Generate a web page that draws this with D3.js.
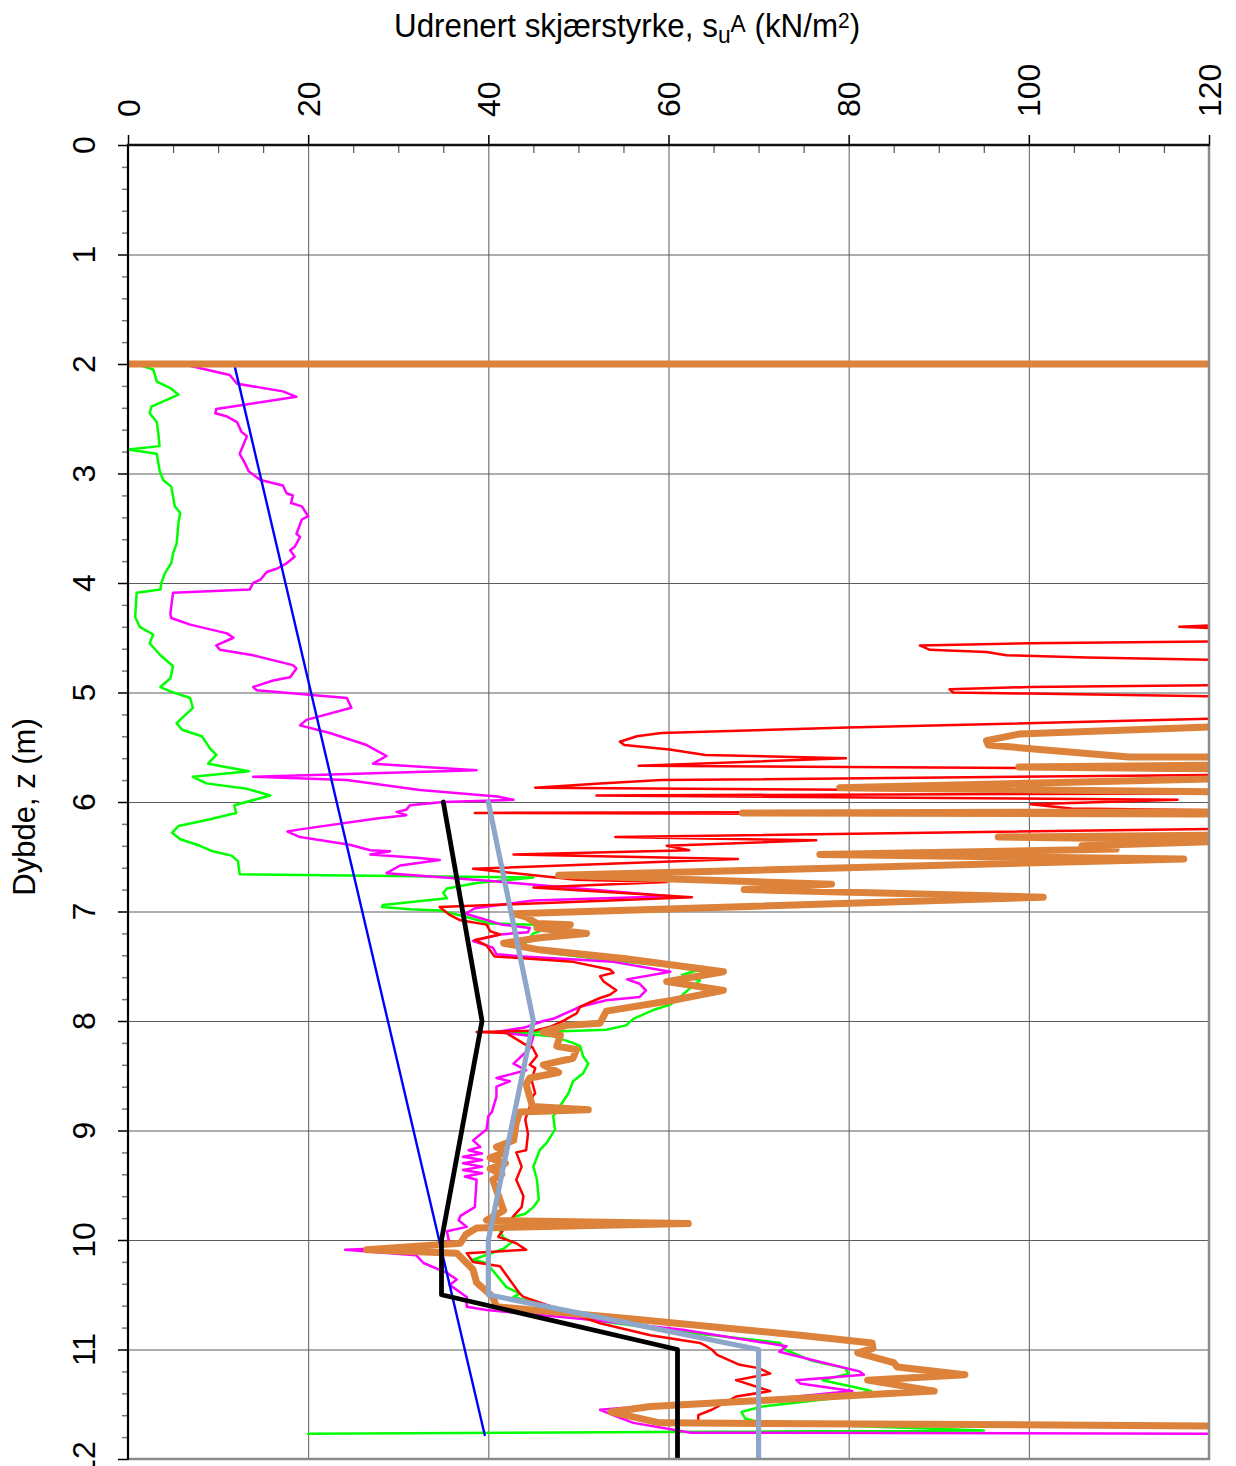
<!DOCTYPE html>
<html><head><meta charset="utf-8">
<script src="https://cdn.jsdelivr.net/npm/d3@7"></script>
<style>
body{margin:0;background:#fff}
svg{display:block}
text{font-family:"Liberation Sans",Arial,Helvetica,sans-serif;fill:#000}
</style>
</head><body>
<svg id="c" width="1236" height="1466"></svg>
<script>
// ---------- data (su in kN/m2, depth in m) ----------
const xTickValues = [0, 20, 40, 60, 80, 100, 120];
const yTickValues = [0, 1, 2, 3, 4, 5, 6, 7, 8, 9, 10, 11, 12];
const xTitle = "Udrenert skjærstyrke, s";
const yTitle = "Dybde, z (m)";

const seriesGreen = [[0.5,2.0],[1.3,2.01],[2.8,2.05],[3.2,2.16],[4.7,2.22],[5.6,2.28],[2.6,2.39],[2.4,2.45],[3.2,2.53],[3.4,2.66],[3.5,2.75],[0,2.78],[3.2,2.82],[3.5,2.97],[3.9,3.06],[4.8,3.12],[5.0,3.21],[5.2,3.30],[5.8,3.36],[5.6,3.45],[5.4,3.64],[5.0,3.73],[4.8,3.82],[4.1,3.91],[3.7,4.00],[3.6,4.06],[0.96,4.09],[0.8,4.31],[1.3,4.40],[2.8,4.47],[2.4,4.55],[3.6,4.66],[5.0,4.76],[4.7,4.87],[3.6,4.95],[4.7,4.99],[6.9,5.05],[7.2,5.14],[5.4,5.28],[6.0,5.34],[8.2,5.40],[9.1,5.51],[9.8,5.57],[8.9,5.65],[13.4,5.72],[7.2,5.77],[8.7,5.83],[13.2,5.88],[15.8,5.94],[11.8,6.03],[12.0,6.10],[9.0,6.16],[5.6,6.22],[4.9,6.28],[5.8,6.34],[8.0,6.40],[9.4,6.45],[11.5,6.49],[12.2,6.54],[12.4,6.66],[45,6.69],[38.7,6.74],[35.4,6.79],[35,6.83],[35.4,6.88],[28.3,6.94],[28.2,6.96],[31.3,6.98],[34.6,6.99],[37.6,7.05],[40.2,7.11],[45,7.12],[45.7,7.18],[45,7.2],[43.9,7.31],[45.7,7.35],[46.8,7.38],[53.1,7.44],[63.5,7.53],[61.5,7.58],[63.5,7.63],[62.4,7.70],[60.9,7.81],[60.2,7.85],[58.3,7.90],[56.1,7.98],[55.3,8.04],[53.1,8.08],[45.7,8.10],[40.9,8.10],[47.2,8.14],[49.4,8.2],[50.2,8.23],[50.5,8.32],[51.1,8.39],[50.5,8.48],[49.4,8.55],[48.9,8.66],[47.2,8.87],[47.4,8.99],[46.5,9.11],[45.7,9.18],[45,9.33],[45.4,9.45],[45.6,9.63],[45,9.70],[44.1,9.76],[42.8,9.79],[41.3,9.92],[41.7,9.98],[42.6,10.02],[41.7,10.08],[38.3,10.18],[39.8,10.21],[40.9,10.32],[42,10.43],[43.5,10.49],[42.8,10.52],[53.1,10.75],[61.6,10.84],[72.4,10.94],[72.9,11.0],[75.8,11.10],[79.6,11.17],[80,11.22],[77.1,11.28],[82.1,11.37],[82.5,11.38],[79.6,11.43],[77.9,11.45],[70.4,11.52],[68.1,11.57],[68.5,11.63],[70.4,11.67],[95,11.74],[20,11.77]];

const seriesMagenta = [[0.5,2.0],[6.0,2.0],[11.3,2.1],[12.1,2.18],[17.2,2.25],[18.7,2.30],[9.8,2.41],[9.7,2.45],[11,2.48],[12.1,2.53],[12.6,2.62],[13.2,2.66],[12.8,2.74],[12.4,2.82],[13,2.91],[13.4,2.98],[14.7,3.06],[17.2,3.11],[17.6,3.18],[18.3,3.2],[18.1,3.27],[19.3,3.30],[20,3.39],[19.3,3.42],[18.7,3.55],[19.1,3.58],[18.5,3.67],[18,3.70],[18.5,3.76],[17.6,3.82],[16.5,3.87],[15.4,3.90],[14.7,3.97],[13.9,4.00],[13.5,4.06],[5.0,4.09],[4.7,4.28],[4.8,4.32],[6.9,4.38],[11,4.46],[11.7,4.50],[9.8,4.57],[10.2,4.61],[13.9,4.66],[18.3,4.75],[18.7,4.78],[18,4.86],[16.1,4.89],[13.9,4.95],[14.3,4.98],[24.3,5.05],[24.8,5.14],[19.8,5.25],[19.1,5.30],[22.4,5.37],[26.5,5.48],[27.6,5.53],[28.7,5.58],[27.2,5.65],[38.7,5.71],[13.9,5.77],[24.3,5.80],[32.4,5.89],[41,5.95],[42.8,5.98],[35,6.0],[31.3,6.03],[30.9,6.07],[29.8,6.09],[30.9,6.12],[27.6,6.15],[19.1,6.25],[17.7,6.27],[19.1,6.32],[24.6,6.39],[26.9,6.44],[29.1,6.45],[26.9,6.48],[32,6.51],[34.6,6.53],[30.2,6.58],[28.7,6.65],[40,6.72],[60.2,6.86],[45,6.90],[38.5,6.97],[37.5,7.02],[38.7,7.05],[41.5,7.12],[44.6,7.15],[44.4,7.19],[41.3,7.21],[38.3,7.27],[40.5,7.33],[40.9,7.39],[43.9,7.41],[53.9,7.46],[60.2,7.55],[55.4,7.62],[56.8,7.66],[57.5,7.72],[56.8,7.78],[53.1,7.81],[50.2,7.87],[47.2,7.98],[46.1,8.0],[44,8.06],[40.9,8.10],[45,8.14],[44.6,8.25],[42.8,8.39],[44.2,8.45],[40.9,8.52],[42.4,8.55],[40.9,8.6],[40.9,8.69],[40.4,8.83],[40,8.87],[39.8,8.99],[38.3,9.09],[39.1,9.15],[37.8,9.18],[39.3,9.21],[37.2,9.24],[39.3,9.27],[37.2,9.30],[39.3,9.33],[37.2,9.36],[39.3,9.39],[37.4,9.42],[38.7,9.45],[38.5,9.70],[36.9,9.78],[36.7,9.82],[37.6,9.88],[35.4,9.92],[35.6,10.0],[34.8,10.05],[24.1,10.09],[32,10.14],[32.8,10.21],[35.4,10.3],[36.5,10.36],[35.7,10.41],[37.6,10.52],[37.6,10.61],[39.8,10.64],[50.2,10.72],[61.6,10.82],[73.1,10.97],[72.3,11.02],[76.2,11.10],[81.2,11.20],[81.7,11.23],[74.2,11.28],[74.6,11.31],[79.6,11.37],[80.4,11.38],[72.9,11.44],[60,11.5],[52.4,11.55],[54.2,11.61],[56.1,11.67],[62.5,11.76],[125,11.77]];

const seriesRed = [[125,4.37],[116.7,4.40],[125,4.43],[125,4.53],[100,4.55],[87.9,4.57],[89,4.61],[95.3,4.63],[97.5,4.66],[106.5,4.68],[125,4.71],[125,4.93],[100,4.95],[91.2,4.97],[91.6,5.0],[100,5.01],[125,5.04],[125,5.23],[79.9,5.32],[59.2,5.37],[56.5,5.40],[54.6,5.45],[55.1,5.48],[60.1,5.52],[64.1,5.57],[79.7,5.60],[56.7,5.67],[98.9,5.69],[125,5.72],[125,5.75],[59.2,5.80],[52.4,5.83],[45.2,5.87],[125,5.91],[125,5.92],[52,5.94],[116.5,5.98],[100.2,6.02],[104.7,6.06],[125,6.08],[38.5,6.10],[125,6.12],[125,6.24],[54.1,6.32],[76.4,6.35],[59.8,6.40],[62.3,6.44],[42.8,6.48],[67.7,6.52],[38.3,6.61],[49.8,6.71],[59.8,6.73],[45,6.78],[62.6,6.87],[34.6,6.96],[35.7,7.03],[36.9,7.08],[39.8,7.12],[40.2,7.18],[41.3,7.21],[38.5,7.26],[39.8,7.31],[40.7,7.41],[49.4,7.46],[53.5,7.53],[53.9,7.56],[52.4,7.59],[52.8,7.64],[54.2,7.72],[53.5,7.76],[52.4,7.79],[50.2,7.87],[49.8,7.93],[48.7,7.98],[48.3,8.0],[47,8.05],[45,8.09],[38.7,8.10],[42,8.11],[44.2,8.22],[44.9,8.24],[45.4,8.32],[44.6,8.40],[45.2,8.43],[44.8,8.54],[45.2,8.66],[44.9,8.69],[44.6,8.78],[44.1,8.90],[44.4,9.03],[44.2,9.18],[43.1,9.20],[43.7,9.33],[43.1,9.45],[43.9,9.6],[43.7,9.7],[42.8,9.78],[41.1,9.97],[43.1,10.03],[44.2,10.09],[37.6,10.12],[38.3,10.20],[41.3,10.24],[43.5,10.49],[43.9,10.52],[52.4,10.76],[58,10.87],[63.5,10.94],[64.2,10.97],[64.8,11.0],[65.4,11.05],[67.9,11.14],[70,11.17],[71.3,11.22],[67.5,11.28],[71.3,11.38],[67.5,11.43],[64.8,11.55],[63.3,11.60],[63.3,11.66],[60,11.69]];

const seriesOrange = [[0,2.0],[125,2.0],[125,5.30],[98.9,5.38],[95.3,5.44],[95.5,5.48],[111.1,5.59],[125,5.59],[125,5.66],[98.9,5.68],[125,5.70],[125,5.78],[79,5.87],[125,5.91],[125,6.09],[68.2,6.10],[125,6.11],[125,6.30],[96.6,6.32],[125,6.35],[105.9,6.40],[109.7,6.43],[76.8,6.48],[117.2,6.52],[47.8,6.67],[78.1,6.75],[68.4,6.80],[101.6,6.87],[42.8,7.02],[44.2,7.05],[45.4,7.11],[49.1,7.12],[45.4,7.15],[50.9,7.2],[45.7,7.24],[41.7,7.29],[45.7,7.35],[55,7.43],[66.1,7.55],[59.8,7.64],[66.1,7.72],[60.5,7.81],[53.1,7.91],[52.4,8.02],[48.7,8.04],[46.1,8.10],[48,8.13],[47.6,8.23],[49.8,8.26],[49.4,8.34],[46.1,8.40],[47.8,8.47],[44.6,8.52],[44.2,8.58],[44.9,8.78],[51.1,8.81],[43.5,8.83],[43.1,8.93],[42.8,9.09],[40.9,9.15],[41.9,9.2],[40.2,9.25],[41.9,9.3],[40.2,9.35],[41.5,9.4],[40.5,9.45],[41.7,9.73],[39.8,9.82],[62.2,9.85],[38.7,9.89],[37.5,9.95],[36.9,10.03],[26.5,10.09],[36.5,10.12],[38.3,10.27],[38.7,10.39],[40.5,10.52],[40.9,10.61],[55.7,10.72],[74.6,10.87],[82.6,10.94],[82.7,10.99],[81,11.03],[85,11.12],[85.4,11.16],[92.9,11.23],[82.1,11.28],[89.5,11.38],[58,11.52],[53.6,11.57],[59,11.67],[125,11.70]];

const seriesBlue = [[11.9,2.04],[39.6,11.78]];
const seriesBlack = [[35,6.0],[39.3,8.0],[34.8,10.0],[34.8,10.5],[61,11.0],[61,12.0]];
const seriesSteel = [[40,6.0],[45,8.0],[40,10.0],[40,10.5],[70,11.0],[70,12.0]];

// ---------- chart ----------
const svg = d3.select('#c');
const L = 128, R = 1209, T = 145, B = 1459;
const x = d3.scaleLinear().domain([0, 120]).range([L, R]);
const y = d3.scaleLinear().domain([0, 12]).range([T, B]);

const xMinor = d3.range(0, 121, 5).filter(v => v % 20 !== 0);
const yMinor = d3.range(0, 60.5, 1).map(v => v / 5).filter(v => Math.abs(v - Math.round(v)) > 1e-6);

// grid
svg.append('g').attr('transform', `translate(0,${T})`)
  .call(d3.axisTop(x).tickValues(xTickValues.slice(1, -1)).tickSize(-(B - T)).tickFormat(''))
  .call(g => { g.select('.domain').remove(); g.selectAll('line').attr('stroke', '#5c5c5c').attr('stroke-width', 1); });
svg.append('g').attr('transform', `translate(${L},0)`)
  .call(d3.axisLeft(y).tickValues(yTickValues.slice(1, -1)).tickSize(-(R - L)).tickFormat(''))
  .call(g => { g.select('.domain').remove(); g.selectAll('line').attr('stroke', '#5c5c5c').attr('stroke-width', 1); });

// series
svg.append('defs').append('clipPath').attr('id', 'plot')
  .append('rect').attr('x', L).attr('y', T - 4).attr('width', R - L).attr('height', B - T + 4);
const line = d3.line().x(p => x(p[0])).y(p => y(p[1]));
const plot = svg.append('g').attr('clip-path', 'url(#plot)');
const series = [
  {d: seriesGreen, c: '#00ff00', w: 2.5},
  {d: seriesMagenta, c: '#ff00ff', w: 2.5},
  {d: seriesRed, c: '#ff0000', w: 2.5},
  {d: seriesOrange, c: '#dc823a', w: 7},
  {d: seriesBlue, c: '#0000ff', w: 2.4},
  {d: seriesBlack, c: '#000000', w: 4.8},
  {d: seriesSteel, c: '#8ea6ca', w: 5.2}
];
series.forEach(s => {
  plot.append('path').attr('d', line(s.d)).attr('fill', 'none')
    .attr('stroke', s.c).attr('stroke-width', s.w)
    .attr('stroke-linejoin', 'round').attr('stroke-linecap', 'round');
});

// borders (right/bottom grey)
svg.append('line').attr('x1', R).attr('x2', R).attr('y1', T).attr('y2', B + 1)
  .attr('stroke', '#8a8a8a').attr('stroke-width', 2.5);
svg.append('line').attr('x1', L).attr('x2', R + 1).attr('y1', B).attr('y2', B)
  .attr('stroke', '#8a8a8a').attr('stroke-width', 2.5);

// x axis (top)
svg.append('g').attr('transform', `translate(0,${T})`)
  .call(d3.axisTop(x).tickValues(xMinor).tickSize(-8).tickFormat(''))
  .call(g => { g.select('.domain').remove(); g.selectAll('line').attr('stroke', '#555').attr('stroke-width', 1.2); });
svg.append('g').attr('transform', `translate(0,${T})`)
  .call(d3.axisTop(x).tickValues(xTickValues).tickSize(10).tickFormat(''))
  .call(g => { g.select('.domain').remove(); g.selectAll('line').attr('stroke', '#000').attr('stroke-width', 1.5); });
// y axis (left)
svg.append('g').attr('transform', `translate(${L},0)`)
  .call(d3.axisLeft(y).tickValues(yMinor).tickSize(6).tickFormat(''))
  .call(g => { g.select('.domain').remove(); g.selectAll('line').attr('stroke', '#777').attr('stroke-width', 1.5); });
svg.append('g').attr('transform', `translate(${L},0)`)
  .call(d3.axisLeft(y).tickValues(yTickValues).tickSize(10).tickFormat(''))
  .call(g => { g.select('.domain').remove(); g.selectAll('line').attr('stroke', '#000').attr('stroke-width', 1.5); });

svg.append('line').attr('x1', L).attr('x2', L).attr('y1', T - 1).attr('y2', B + 1)
  .attr('stroke', '#000').attr('stroke-width', 2.2);
svg.append('line').attr('x1', L - 1).attr('x2', R + 1).attr('y1', T).attr('y2', T)
  .attr('stroke', '#111').attr('stroke-width', 2.4);

// tick labels
svg.append('g').selectAll('text').data(xTickValues).join('text')
  .attr('transform', v => `translate(${x(v) + 11.5},117) rotate(-90)`)
  .attr('text-anchor', 'start').attr('font-size', 32).text(v => v);
svg.append('g').selectAll('text').data(yTickValues).join('text')
  .attr('transform', v => `translate(95,${y(v)}) rotate(-90)`)
  .attr('text-anchor', 'middle').attr('font-size', 32).text(v => v);

// titles
const tt = svg.append('g').attr('transform', 'translate(394,37) scale(0.95,1)')
  .append('text').attr('font-size', 33);
tt.append('tspan').text(xTitle);
tt.append('tspan').attr('font-size', 24).attr('dy', 6).text('u');
tt.append('tspan').attr('font-size', 24).attr('dy', -11).text('A');
tt.append('tspan').attr('dy', 5).text(' (kN/m');
tt.append('tspan').attr('font-size', 22).attr('dy', -9).text('2');
tt.append('tspan').attr('dy', 9).text(')');

svg.append('text').attr('transform', 'translate(35,807) rotate(-90)')
  .attr('text-anchor', 'middle').attr('font-size', 31).text(yTitle);
</script>
</body></html>
